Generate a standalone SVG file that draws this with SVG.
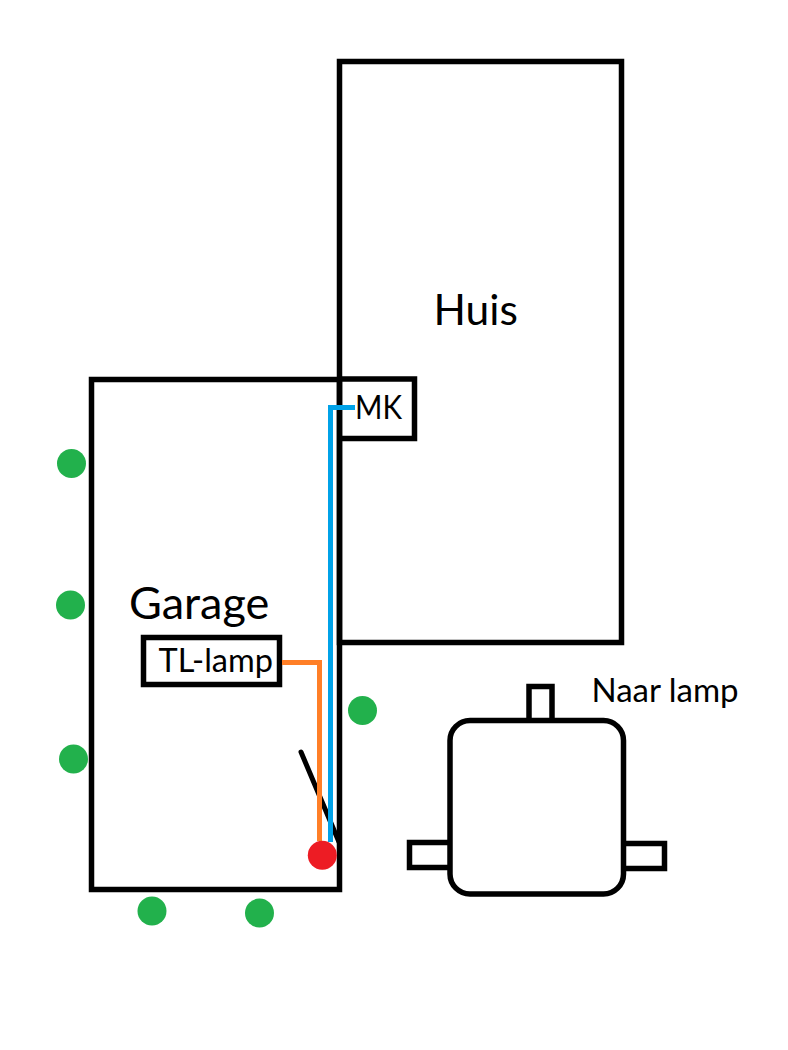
<svg xmlns="http://www.w3.org/2000/svg" width="788" height="1050" viewBox="0 0 788 1050">
<style>
.s{fill:none;stroke:#000;stroke-width:5.5}
.t{font-family:Lato,"Open Sans",sans-serif;fill:#000}
.g{fill:#22B14C}
.c{fill:none;stroke-width:5;stroke-linejoin:miter}
</style>
<rect width="788" height="1050" fill="#fff"/>
<g id="huis"><rect class="s" x="339.5" y="61.5" width="282" height="581"/><text class="t" x="433.5" y="325" font-size="42.5">Huis</text></g>
<g id="garage"><rect class="s" x="91.5" y="379.5" width="248" height="510"/><text class="t" x="129" y="619" font-size="45">Garage</text></g>
<g id="mk"><path class="s" d="M339.5 379H414.5V438.5H339.5"/><text class="t" x="355" y="419" font-size="32" textLength="47" lengthAdjust="spacingAndGlyphs">MK</text></g>
<g id="tl-lamp"><rect class="s" x="143.5" y="637.5" width="136" height="47"/><text class="t" x="158.5" y="672" font-size="32.5">TL-lamp</text></g>
<g id="switch"><line x1="301" y1="752" x2="339" y2="842" stroke="#000" stroke-width="5" stroke-linecap="round"/></g>
<g id="connectors">
<path class="c" stroke="#FF7F27" d="M282 662.5H319.5V841"/>
<path class="c" stroke="#00A2E8" d="M355 407.5H330.5V842"/>
</g>
<g id="red-dot"><circle cx="322.3" cy="855.3" r="14.5" fill="#ED1C24"/></g>
<g id="trees">
<circle class="g" cx="71.5" cy="463.5" r="14.5"/>
<circle class="g" cx="70.5" cy="605" r="14.5"/>
<circle class="g" cx="73.5" cy="759" r="14.5"/>
<circle class="g" cx="152" cy="911" r="14.5"/>
<circle class="g" cx="259.5" cy="913" r="14.5"/>
<circle class="g" cx="362.5" cy="710.5" r="14.5"/>
</g>
<g id="box">
<path class="s" d="M529 720V686.5H552V720"/>
<path class="s" d="M450 842.5H409.5V867.5H450"/>
<path class="s" d="M623.5 843.5H664.5V868.5H623.5"/>
<rect class="s" x="450" y="720.5" width="173.5" height="173.5" rx="20"/>
</g>
<g id="naar-lamp"><text class="t" x="591.5" y="702" font-size="33">Naar lamp</text></g>
</svg>
